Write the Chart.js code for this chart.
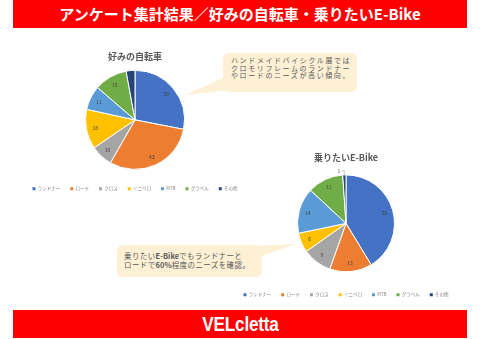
<!DOCTYPE html>
<html>
<head>
<meta charset="utf-8">
<script src="https://cdn.jsdelivr.net/npm/chart.js@4/dist/chart.umd.min.js"></script>
<style>
  body { margin: 0; width: 480px; height: 339px; background: #fff; position: relative; overflow: hidden; font-family: "Noto Sans CJK JP", sans-serif; }
  .bar { position: absolute; left: 13px; width: 454px; height: 28px; background: #ff0000; color: #fff; text-align: center; font-weight: bold; }
  #head { top: 0; font-size: 15px; line-height: 28px; }
  #foot { top: 310px; font-family: "Liberation Sans", sans-serif; font-size: 21px; line-height: 28px; }
  #foot span { display: inline-block; transform: scaleX(0.82); letter-spacing: -0.3px; }
  canvas { position: absolute; }
  #tails { position: absolute; left: 0; top: 0; }
  .note { position: absolute; background: #fdf0d5; border-radius: 6px; color: #595959; white-space: nowrap; box-sizing: border-box; }
  #note1 { left: 223px; top: 53px; width: 134px; height: 39px; padding: 4px 0 0 8px; font-size: 7px; line-height: 7.6px; letter-spacing: 1.6px; }
  #note2 { left: 117px; top: 245px; width: 145px; height: 32px; padding: 6px 0 0 7px; font-size: 7.5px; line-height: 9px; letter-spacing: 0.4px; }
  #note2 b { letter-spacing: 0; }
</style>
</head>
<body>
<div class="bar" id="head">アンケート集計結果／好みの自転車・乗りたいE-Bike</div>

<canvas id="pieFav" width="250" height="152" style="left:10px;top:49px"></canvas>
<canvas id="pieEbike" width="250" height="157" style="left:220.5px;top:150px"></canvas>

<svg id="tails" width="480" height="339">
  <polygon points="225,77 229,90 185,95" fill="#fdf0d5" />
  <polygon points="255,246 261,256 296,244" fill="#fdf0d5" />
</svg>
<div class="note" id="note1">ハンドメイドバイシクル展では<br>クロモリフレームのランドナー<br>やロードのニーズが高い傾向。</div>
<div class="note" id="note2">乗りたい<b>E-Bike</b>でもランドナーと<br>ロードで<b>60%</b>程度のニーズを確認。</div>

<div class="bar" id="foot"><span>VELcletta</span></div>

<script>
const categories = ['ランドナー', 'ロード', 'クロス', 'ミニベロ', 'MTB', 'グラベル', 'その他'];
const favValues = [39, 42, 10, 18, 11, 15, 4];
const ebikeValues = [38, 13, 9, 6, 14, 11, 1];
const colors = ['#4472C4', '#ED7D31', '#A5A5A5', '#FFC000', '#5B9BD5', '#70AD47', '#264478'];

const FONT = '"Noto Sans CJK JP", sans-serif';

// value labels on the slices, small ones outside with a leader line
const pieLabels = {
  id: 'pieLabels',
  afterDatasetsDraw(chart, args, opts) {
    const ctx = chart.ctx;
    const arcs = chart.getDatasetMeta(0).data;
    const values = chart.data.datasets[0].data;
    ctx.save();
    ctx.font = '5px ' + FONT;
    ctx.fillStyle = '#404040';
    ctx.strokeStyle = '#a6a6a6';
    ctx.lineWidth = 0.6;
    ctx.textAlign = 'center';
    ctx.textBaseline = 'middle';
    arcs.forEach((arc, i) => {
      if ((opts.hide || []).includes(i)) return;
      const mid = (arc.startAngle + arc.endAngle) / 2;
      if ((opts.outside || []).includes(i)) {
        const ex = arc.x + Math.cos(mid) * arc.outerRadius;
        const ey = arc.y + Math.sin(mid) * arc.outerRadius;
        ctx.beginPath();
        ctx.moveTo(ex, ey);
        ctx.lineTo(ex, ey - 4);
        ctx.lineTo(ex - 3, ey - 4);
        ctx.stroke();
        ctx.fillText(values[i], ex - 5.5, ey - 4);
        return;
      }
      const r = arc.outerRadius * 0.82;
      ctx.fillText(values[i], arc.x + Math.cos(mid) * r, arc.y + Math.sin(mid) * r);
    });
    ctx.restore();
  }
};

function makePie(id, title, values, radius, titlePad, labelOpts) {
  return new Chart(document.getElementById(id), {
    type: 'pie',
    data: {
      labels: categories,
      datasets: [{ data: values, backgroundColor: colors, borderColor: '#fff', borderWidth: 1 }]
    },
    options: {
      responsive: false,
      animation: false,
      radius: radius,
      plugins: {
        title: { display: true, text: title, color: '#595959', font: { size: 9, weight: 'bold', family: FONT }, padding: titlePad },
        legend: {
          position: 'bottom',
          labels: {
            boxWidth: 3, boxHeight: 3, padding: 10, color: '#7f7f7f',
            font: { size: 4.5, family: FONT },
            generateLabels: c => Chart.overrides.doughnut.plugins.legend.labels.generateLabels(c).map(l => ({ ...l, lineWidth: 0 }))
          }
        },
        tooltip: { enabled: false },
        pieLabels: labelOpts
      }
    },
    plugins: [pieLabels]
  });
}

makePie('pieFav', '好みの自転車', favValues, 49.5, { top: 2.6, bottom: 0.85 }, { hide: [6] });
makePie('pieEbike', '乗りたいE-Bike', ebikeValues, 48.5, { top: 2.6, bottom: 0.85 }, { outside: [6] });
</script>
</body>
</html>
